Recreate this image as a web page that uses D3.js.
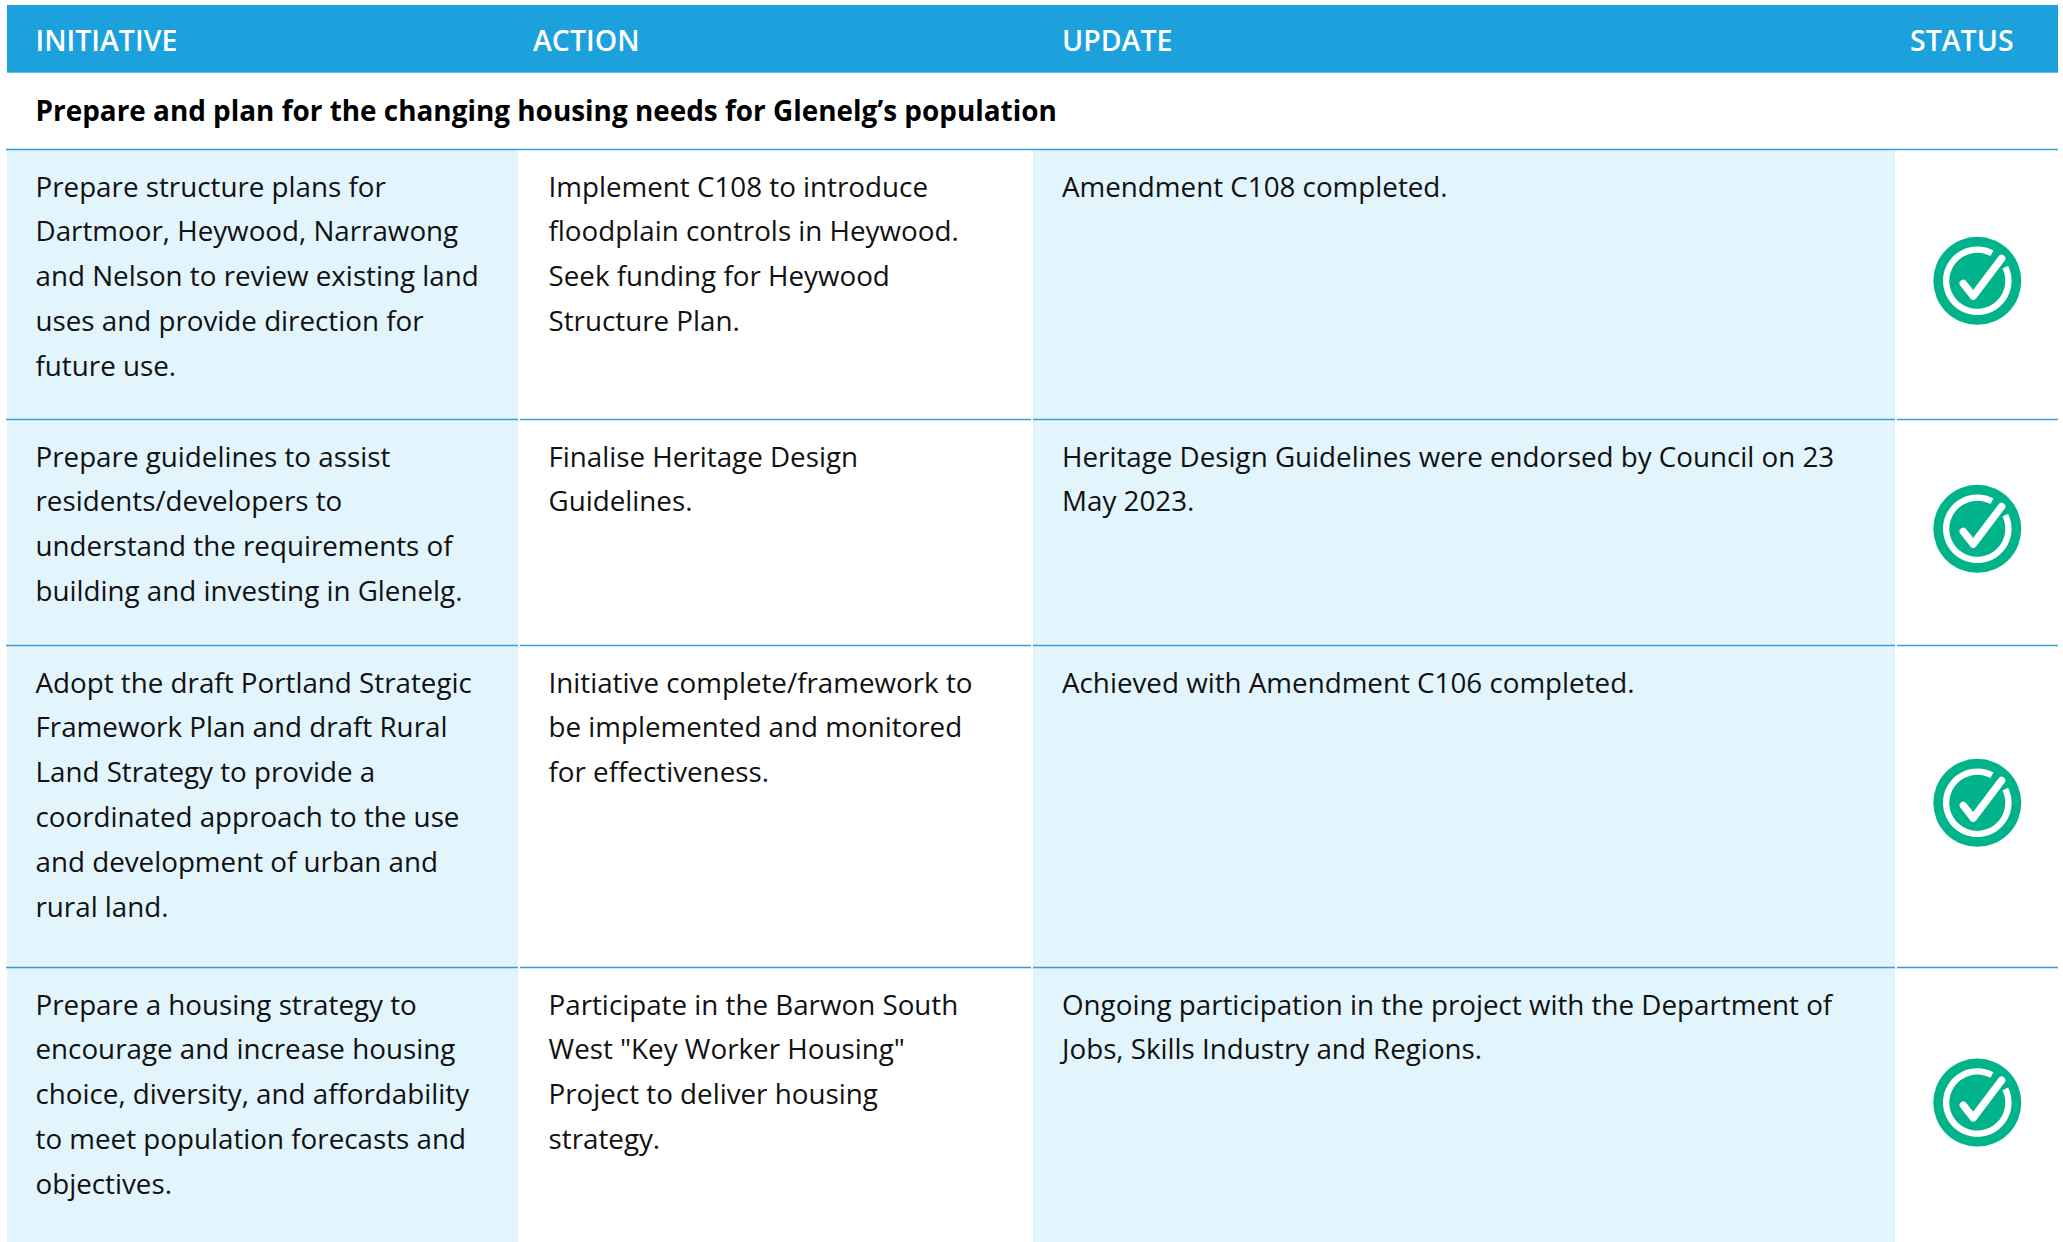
<!DOCTYPE html>
<html>
<head>
<meta charset="utf-8">
<script src="https://cdn.jsdelivr.net/npm/d3@7"></script>
<style>
  html, body { margin: 0; padding: 0; background: #fff; overflow: hidden; }
  svg { display: block; }
  text { font-family: "Open Sans", sans-serif; }
</style>
</head>
<body>
<div id="chart"></div>
<script>
// table content
var headers = ["INITIATIVE", "ACTION", "UPDATE", "STATUS"];
var sectionTitle = "Prepare and plan for the changing housing needs for Glenelg’s population";
var initiatives = [
  ["Prepare structure plans for", "Dartmoor, Heywood, Narrawong", "and Nelson to review existing land", "uses and provide direction for", "future use."],
  ["Prepare guidelines to assist", "residents/developers to", "understand the requirements of", "building and investing in Glenelg."],
  ["Adopt the draft Portland Strategic", "Framework Plan and draft Rural", "Land Strategy to provide a", "coordinated approach to the use", "and development of urban and", "rural land."],
  ["Prepare a housing strategy to", "encourage and increase housing", "choice, diversity, and affordability", "to meet population forecasts and", "objectives."]
];
var actions = [
  ["Implement C108 to introduce", "floodplain controls in Heywood.", "Seek funding for Heywood", "Structure Plan."],
  ["Finalise Heritage Design", "Guidelines."],
  ["Initiative complete/framework to", "be implemented and monitored", "for effectiveness."],
  ["Participate in the Barwon South", "West \"Key Worker Housing\"", "Project to deliver housing", "strategy."]
];
var updates = [
  ["Amendment C108 completed."],
  ["Heritage Design Guidelines were endorsed by Council on 23", "May 2023."],
  ["Achieved with Amendment C106 completed."],
  ["Ongoing participation in the project with the Department of", "Jobs, Skills Industry and Regions."]
];
var statuses = ["done", "done", "done", "done"];

// layout
var width = 2063, height = 1242;
var colEdges = [[7, 518], [520, 1031], [1033, 1895], [1897, 2058]];
var headerX = [35.5, 533, 1062, 1910];
var textX = [35.5, 548.5, 1062];
var rowEdges = [149.5, 419.5, 645.5, 967.5, 1245];
var fontSize = 27.5, stretch = 1.01, lineGap = 44.9;
var blue = "#1ca1dd", pale = "#e2f4fc", rule = "#3a9dd6", green = "#00b38b";

var svg = d3.select("#chart").append("svg")
  .attr("width", width).attr("height", height);

var rows = d3.range(initiatives.length);
var columns = [initiatives, actions, updates];

// header band
svg.append("rect")
  .attr("x", 7).attr("y", 5).attr("width", 2051).attr("height", 67.7)
  .attr("fill", blue);
svg.selectAll("text.head").data(headers).join("text")
  .attr("class", "head")
  .attr("x", (d, i) => headerX[i]).attr("y", 50.5)
  .attr("font-size", 28.5).attr("font-weight", 600).attr("fill", "#fff")
  .text(d => d);

svg.append("text")
  .attr("x", 35.5).attr("y", 120.5)
  .attr("font-size", 27.9).attr("font-weight", 700).attr("fill", "#000")
  .text(sectionTitle);

// shaded columns 1 and 3
svg.selectAll("rect.shade").data([0, 2]).join("rect")
  .attr("class", "shade")
  .attr("x", d => colEdges[d][0]).attr("width", d => colEdges[d][1] - colEdges[d][0])
  .attr("y", rowEdges[0]).attr("height", height - rowEdges[0])
  .attr("fill", pale);

// row rules, with small gaps between the columns
var ruleRows = rowEdges.slice(0, 4);
ruleRows.forEach(function(y, r) {
  var segs = r == 0 ? [[6, 2058]] : [[6, 518], [520, 1031], [1033, 1895], [1897, 2058]];
  svg.append("g").selectAll("line").data(segs).join("line")
    .attr("x1", d => d[0]).attr("x2", d => d[1])
    .attr("y1", y).attr("y2", y)
    .attr("stroke", rule).attr("stroke-width", 1.4);
});

// cell text
columns.forEach(function(col, c) {
  rows.forEach(function(r) {
    svg.append("g")
      .attr("transform", "translate(" + textX[c] + "," + (rowEdges[r] + 47) + ") scale(" + stretch + ",1)")
      .selectAll("text").data(col[r]).join("text")
      .attr("y", (d, i) => i * lineGap)
      .attr("font-size", fontSize).attr("fill", "#111")
      .text(d => d);
  });
});

// status icons
var ringArc = d3.arc()
  .innerRadius(28).outerRadius(34.3)
  .startAngle(64 * Math.PI / 180).endAngle((360 + 28) * Math.PI / 180);
var tick = d3.line()([[-14, 2.7], [-4, 15.3], [24.3, -22.3]]);

var icons = svg.selectAll("g.icon").data(statuses).join("g")
  .attr("class", "icon")
  .attr("transform", (d, i) => "translate(1977.3," + ((rowEdges[i] + rowEdges[i + 1]) / 2 - 3.7) + ")");
icons.append("circle").attr("r", 44).attr("fill", green);
icons.append("path").attr("d", ringArc).attr("fill", "#fff");
icons.append("path").attr("d", tick)
  .attr("fill", "none").attr("stroke", "#fff").attr("stroke-width", 7.5)
  .attr("stroke-linecap", "round").attr("stroke-linejoin", "round");
</script>
</body>
</html>
